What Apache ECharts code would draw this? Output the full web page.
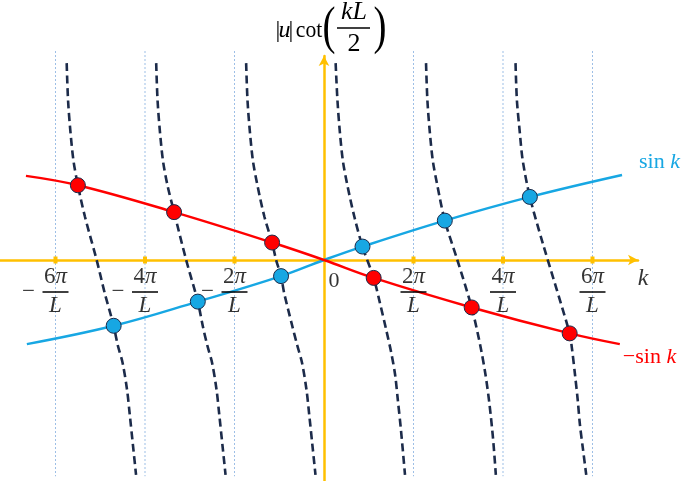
<!DOCTYPE html>
<html>
<head>
<meta charset="utf-8">
<script src="https://cdn.jsdelivr.net/npm/echarts@6/dist/echarts.min.js"></script>
<style>html,body{margin:0;padding:0;background:#fff;}#c{width:685px;height:481px;}</style>
</head>
<body>
<div id="c"></div>
<script>
// ---- data (x in units of pi/L, y in arbitrary units) ----
const ticks = [-6, -4, -2, 2, 4, 6];
const tickNumerators = ['6π', '4π', '2π', '2π', '4π', '6π'];
const tickSigns = ['−', '−', '−', '', '', ''];
const tickDenominator = 'L';
const originLabel = '0';
const axisName = 'k';

const sinK = [[-6.64,-1.88],[-4.70,-1.47],[-2.82,-0.93],[-0.96,-0.36],[0,0],[0.86,0.30],[2.70,0.88],[4.60,1.41],[6.66,1.90]];
const minusSinK = [[-6.66,1.88],[-5.50,1.67],[-3.35,1.07],[-1.16,0.39],[0,0],[1.11,-0.40],[3.30,-1.06],[5.49,-1.64],[6.61,-1.88]];

const blueDots = [[-4.70,-1.47],[-2.82,-0.93],[-0.96,-0.36],[0.86,0.30],[2.70,0.88],[4.60,1.41]];
const redDots = [[-5.50,1.67],[-3.35,1.07],[-1.16,0.39],[1.11,-0.40],[3.30,-1.06],[5.49,-1.64]];

const cotBranch1 = [[-5.75,4.40],[-5.72,3.58],[-5.67,2.91],[-5.60,2.23],[-5.50,1.67],[-5.34,0.96],[-5.08,0],[-4.90,-0.74],[-4.70,-1.47],[-4.61,-1.90],[-4.50,-2.30],[-4.40,-2.91],[-4.34,-3.46],[-4.27,-4.13],[-4.20,-4.80]];
const cotBranch2 = [[-3.75,4.40],[-3.72,3.58],[-3.67,2.91],[-3.60,2.23],[-3.50,1.68],[-3.35,1.07],[-3.08,0],[-2.82,-0.93],[-2.71,-1.47],[-2.61,-1.90],[-2.50,-2.30],[-2.40,-2.91],[-2.34,-3.46],[-2.27,-4.13],[-2.20,-4.80]];
const cotBranch3 = [[-1.74,4.40],[-1.71,3.58],[-1.66,2.91],[-1.59,2.23],[-1.49,1.68],[-1.33,0.96],[-1.16,0.39],[-1.07,0],[-0.96,-0.36],[-0.89,-0.74],[-0.71,-1.47],[-0.60,-1.90],[-0.49,-2.30],[-0.39,-2.91],[-0.33,-3.46],[-0.26,-4.13],[-0.19,-4.80]];
const cotBranch4 = [[0.26,4.40],[0.30,3.58],[0.35,2.91],[0.42,2.23],[0.52,1.68],[0.68,0.96],[0.86,0.30],[1.11,-0.40],[1.25,-0.96],[1.39,-1.56],[1.50,-2.06],[1.59,-2.57],[1.65,-3.13],[1.72,-3.80],[1.81,-4.80]];
const cotBranch5 = [[2.28,4.40],[2.31,3.58],[2.36,2.91],[2.43,2.23],[2.53,1.68],[2.70,0.88],[2.98,0],[3.30,-1.06],[3.49,-1.90],[3.61,-2.57],[3.70,-3.24],[3.78,-4.02],[3.84,-4.80]];
const cotBranch6 = [[4.28,4.40],[4.31,3.58],[4.37,2.91],[4.44,2.23],[4.60,1.41],[4.89,0.37],[5.49,-1.64],[5.54,-1.97],[5.61,-2.57],[5.67,-3.13],[5.72,-3.69],[5.79,-4.25],[5.86,-4.80]];
const cotBranches = [cotBranch1, cotBranch2, cotBranch3, cotBranch4, cotBranch5, cotBranch6];

const guideTop = 4.67;
const guideBottom = -4.83;

// ---- layout ----
const FONT = 'Liberation Serif';
const W = 685, H = 481;
const OX = 324, OY = 260, UNIT = 44.75;
const G = { left: 0, right: 47, top: 56, bottom: 0 };
const xMin = -(OX - G.left) / UNIT;
const xMax = (W - G.right - OX) / UNIT;
const yMax = (OY - G.top) / UNIT;
const yMin = -(H - G.bottom - OY) / UNIT;

const YELLOW = '#FFC000';
const RED = '#FF0000';
const BLUE = '#17A7E3';
const NAVY = '#1C2B4A';

const series = [];

ticks.forEach(t => {
  series.push({
    type: 'line', data: [[t, guideTop], [t, guideBottom]], symbol: 'none', clip: false, z: 1,
    lineStyle: { color: '#9DBFE6', width: 1, type: [2, 2] }, silent: true
  });
});

series.push({
  type: 'scatter', data: ticks.map(t => [t, 0]), symbol: 'rect', symbolSize: [4, 7], z: 2,
  itemStyle: { color: YELLOW, opacity: 1 }, silent: true
});

cotBranches.forEach(b => {
  series.push({
    type: 'line', data: b, symbol: 'none', smooth: 0.3, clip: false, z: 3,
    lineStyle: { color: NAVY, width: 2.6, type: [8, 4.5] }, silent: true
  });
});

series.push({
  type: 'line', data: sinK, symbol: 'none', smooth: 0.4, clip: false, z: 4,
  lineStyle: { color: BLUE, width: 2.5 },
  endLabel: {
    show: true, distance: 0, offset: [17, -13], color: BLUE,
    formatter: () => '{s|sin }{i|k}',
    rich: { s: { fontFamily: FONT, fontSize: 22, color: BLUE }, i: { fontFamily: FONT, fontSize: 22, fontStyle: 'italic', color: BLUE } }
  }
});
series.push({
  type: 'line', data: minusSinK, symbol: 'none', smooth: 0.4, clip: false, z: 4,
  lineStyle: { color: RED, width: 2.5 },
  endLabel: {
    show: true, distance: 0, offset: [3, 13], color: RED,
    formatter: () => '{s|−sin }{i|k}',
    rich: { s: { fontFamily: FONT, fontSize: 22, color: RED }, i: { fontFamily: FONT, fontSize: 22, fontStyle: 'italic', color: RED } }
  }
});

series.push({
  type: 'scatter', data: blueDots, symbol: 'circle', symbolSize: 15, z: 6,
  itemStyle: { color: BLUE, borderColor: NAVY, borderWidth: 1, opacity: 1 }
});
series.push({
  type: 'scatter', data: redDots, symbol: 'circle', symbolSize: 15, z: 6,
  itemStyle: { color: RED, borderColor: NAVY, borderWidth: 1, opacity: 1 }
});

const txt = { fontFamily: FONT, fontSize: 23, color: '#000' };
const hidden = { color: 'rgba(0,0,0,0)' };

// numerators
series.push({
  type: 'scatter', data: ticks.map(t => [t, 0]), symbolSize: 1, itemStyle: hidden, z: 7, silent: true,
  label: {
    show: true, position: 'inside', offset: [0, 17],
    formatter: p => { const s = tickNumerators[p.dataIndex]; return '{n|' + s.slice(0, -1) + '}{p|π}'; },
    rich: { n: txt, p: Object.assign({}, txt, { fontStyle: 'italic' }) }
  }
});
// fraction bars
series.push({
  type: 'scatter', data: ticks.map(t => [t, 0]), symbol: 'rect', symbolSize: [26, 1.5], symbolOffset: [0, 32],
  itemStyle: { color: '#000', opacity: 1 }, z: 7, silent: true
});
// denominators
series.push({
  type: 'scatter', data: ticks.map(t => [t, 0]), symbolSize: 1, itemStyle: hidden, z: 7, silent: true,
  label: {
    show: true, position: 'inside', offset: [0, 46],
    formatter: () => '{p|' + tickDenominator + '}',
    rich: { p: Object.assign({}, txt, { fontStyle: 'italic' }) }
  }
});
// signs
series.push({
  type: 'scatter', data: ticks.map(t => [t, 0]), symbolSize: 1, itemStyle: hidden, z: 7, silent: true,
  label: {
    show: true, position: 'inside', offset: [-27, 32],
    formatter: p => tickSigns[p.dataIndex],
    fontFamily: FONT, fontSize: 23, color: '#000'
  }
});
// origin label
series.push({
  type: 'scatter', data: [[0, 0]], symbolSize: 1, itemStyle: hidden, z: 7, silent: true,
  label: { show: true, position: 'inside', offset: [10, 21], formatter: originLabel, fontFamily: FONT, fontSize: 22, color: '#000' }
});
// axis name k
series.push({
  type: 'scatter', data: [[xMax, 0]], symbolSize: 1, itemStyle: hidden, z: 7, silent: true, clip: false,
  label: { show: true, position: 'inside', offset: [5, 19], formatter: axisName, fontFamily: FONT, fontSize: 24, fontStyle: 'italic', color: '#000' }
});

const T = 24;
const option = {
  animation: false,
  backgroundColor: '#fff',
  grid: G,
  xAxis: {
    type: 'value', min: xMin, max: xMax,
    axisLine: { onZero: true, symbol: ['none', 'arrow'], symbolSize: [8, 10], lineStyle: { color: YELLOW, width: 2.5 } },
    axisTick: { show: false }, axisLabel: { show: false }, splitLine: { show: false }
  },
  yAxis: {
    type: 'value', min: yMin, max: yMax,
    axisLine: { onZero: true, symbol: ['none', 'arrow'], symbolSize: [8, 10], lineStyle: { color: YELLOW, width: 2.5 } },
    axisTick: { show: false }, axisLabel: { show: false }, splitLine: { show: false }
  },
  graphic: [
    { type: 'text', x: 278, y: 31, style: { text: '|', fontFamily: FONT, fontSize: T, fill: '#000', align: 'center', verticalAlign: 'middle' } },
    { type: 'text', x: 284.5, y: 31, style: { text: 'u', fontFamily: FONT, fontSize: T, fontStyle: 'italic', fill: '#000', align: 'center', verticalAlign: 'middle' } },
    { type: 'text', x: 291, y: 31, style: { text: '|', fontFamily: FONT, fontSize: T, fill: '#000', align: 'center', verticalAlign: 'middle' } },
    { type: 'text', x: 309, y: 31, scaleX: 0.9, style: { text: 'cot', fontFamily: FONT, fontSize: T, fill: '#000', align: 'center', verticalAlign: 'middle' } },
    { type: 'text', x: 329, y: 29, scaleX: 0.75, style: { text: '(', fontFamily: FONT, fontSize: 52, fill: '#000', align: 'center', verticalAlign: 'middle' } },
    { type: 'text', x: 354, y: 12, style: { text: 'kL', fontFamily: FONT, fontSize: T + 2, fontStyle: 'italic', fill: '#000', align: 'center', verticalAlign: 'middle' } },
    { type: 'line', shape: { x1: 337, y1: 28, x2: 370, y2: 28 }, style: { stroke: '#000', lineWidth: 1.4 } },
    { type: 'text', x: 354, y: 44, style: { text: '2', fontFamily: FONT, fontSize: T + 2, fill: '#000', align: 'center', verticalAlign: 'middle' } },
    { type: 'text', x: 380, y: 29, scaleX: 0.75, style: { text: ')', fontFamily: FONT, fontSize: 52, fill: '#000', align: 'center', verticalAlign: 'middle' } }
  ],
  series
};

const chart = echarts.init(document.getElementById('c'), null, { renderer: 'canvas' });
chart.setOption(option);
</script>
</body>
</html>
